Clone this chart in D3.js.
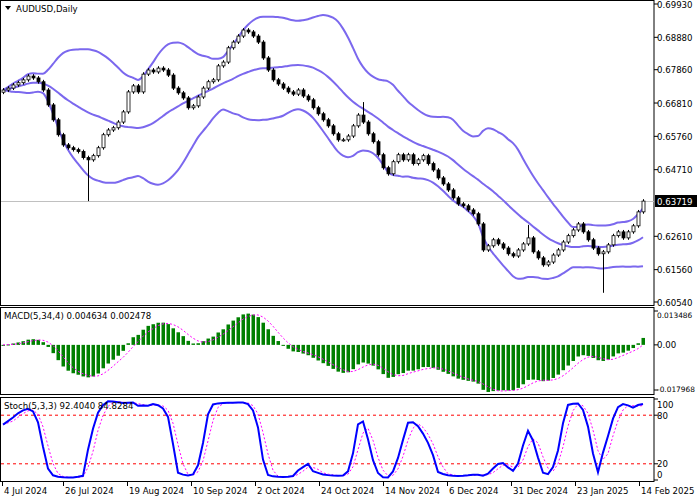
<!DOCTYPE html>
<html><head><meta charset="utf-8">
<script src="https://cdn.jsdelivr.net/npm/d3@7"></script>
<style>body{margin:0;background:#fff}svg{display:block}text{font-family:"DejaVu Sans",sans-serif;font-size:8.6px}</style>
</head><body><svg id="c" width="700" height="500"></svg>
<script>
const closes=[.6722,.6728,.6738,.6745,.6754,.6766,.6760,.6748,.6722,.6675,.6628,.6581,.6549,.6540,.6534,.6528,.6509,.6502,.6515,.6540,
.6581,.6596,.6603,.6621,.6653,.6716,.6735,.6716,.6772,.6785,.6779,.6791,.6785,.6769,.6728,.6713,.6697,.6666,.6672,.6700,
.6728,.6748,.6754,.6798,.6810,.6855,.6873,.6892,.6911,.6905,.6892,.6873,.6823,.6785,.6754,.6741,.6728,.6716,.6709,.6722,
.6703,.6691,.6666,.6647,.6628,.6609,.6584,.6565,.6565,.6577,.6609,.6643,.6621,.6584,.6559,.6518,.6477,.6458,.6496,.6518,
.6502,.6518,.6490,.6502,.6515,.6490,.6470,.6445,.6426,.6407,.6382,.6363,.6357,.6344,.6332,.6300,.6218,.6231,.6250,.6237,
.6224,.6206,.6199,.6218,.6237,.6256,.6212,.6193,.6171,.6180,.6202,.6218,.6243,.6263,.6281,.6300,.6275,.6250,.6224,.6206,
.6212,.6234,.6263,.6275,.6256,.6275,.6294,.6338,.6372];
const firstOpen=.6715;
const longWicks=[[17,"low",.6372],[72,"high",.6684],[105,"high",.6297],[120,"low",.6083]];
const priceTicks=[0.69930,0.68880,0.67860,0.66810,0.65760,0.64710,0.62610,0.61560,0.60540];
const lastPrice=0.63719;
const macdTicks=[0.013486,0.00,-0.017968];
const stochTicks=[100,80,20,0];
const dateLabels=[[0,"4 Jul 2024"],[12.2,"26 Jul 2024"],[25,"19 Aug 2024"],[37.8,"10 Sep 2024"],[50.6,"2 Oct 2024"],[63.4,"24 Oct 2024"],[76.2,"14 Nov 2024"],[89,"6 Dec 2024"],[101.8,"31 Dec 2024"],[114.6,"23 Jan 2025"],[127.4,"14 Feb 2025"]];

const n=closes.length;
const bars=closes.map((c,i)=>{const o=i?closes[i-1]:firstOpen;return{o,c,h:Math.max(o,c)+0.0006,l:Math.min(o,c)-0.0006};});
longWicks.forEach(([i,k,v])=>{bars[i][k==="high"?"h":"l"]=v;});
const bb=closes.map((c,i)=>{const w=closes.slice(Math.max(0,i-19),i+1);const m=d3.mean(w);const s=Math.sqrt(d3.mean(w,v=>(v-m)**2));return{m,u:m+2*s,d:m-2*s};});
function ema(a,p){const k=2/(p+1);let e=a[0];return a.map(v=>e=e+(v-e)*k);}
const e5=ema(closes,5),e34=ema(closes,34);
const macd=closes.map((c,i)=>e5[i]-e34[i]);
const sma=(a,p)=>a.map((v,i)=>d3.mean(a.slice(Math.max(0,i-p+1),i+1)));
const macdSig=sma(macd,4);
const hh=bars.map((b,i)=>d3.max(bars.slice(Math.max(0,i-4),i+1),d=>d.h));
const ll=bars.map((b,i)=>d3.min(bars.slice(Math.max(0,i-4),i+1),d=>d.l));
const num=sma(closes.map((c,i)=>c-ll[i]),3),den=sma(closes.map((c,i)=>hh[i]-ll[i]),3);
const stK=num.map((v,i)=>100*v/den[i]);
const stD=sma(stK,3);

const svg=d3.select("#c");
const x=d3.scaleLinear().domain([0,n-1]).range([3,643]);
const y=d3.scaleLinear().domain([0.60540,0.69930]).range([302,4]);
const ym=d3.scaleLinear().domain([-0.017968,0.013486]).range([390,311]);
const ys=d3.scaleLinear().domain([0,100]).range([480,399]);
const AX=654;
[[0,305],[307,394],[397,481]].forEach(([a,b])=>svg.append("rect").attr("x",0.5).attr("y",a+0.5).attr("width",AX-0.5).attr("height",b-a).attr("fill","none").attr("stroke","#000"));
const clip=(id,a,b)=>svg.append("clipPath").attr("id",id).append("rect").attr("x",1).attr("y",a).attr("width",AX-1).attr("height",b-a);
clip("c1",1,305);clip("c2",308,394);clip("c3",398,481);
const g1=svg.append("g").attr("clip-path","url(#c1)"),g2=svg.append("g").attr("clip-path","url(#c2)"),g3=svg.append("g").attr("clip-path","url(#c3)");
g1.append("line").attr("x1",1).attr("x2",AX).attr("y1",Math.round(y(lastPrice))+0.5).attr("y2",Math.round(y(lastPrice))+0.5).attr("stroke","#c0c0c0");
["u","m","d"].forEach(k=>g1.append("path").attr("d",d3.line().x((d,i)=>x(i)).y(d=>y(d[k])).curve(d3.curveMonotoneX)(bb)).attr("fill","none").attr("stroke","#7b68ee").attr("stroke-width",2));
bars.forEach((b,i)=>{const cx=Math.round(x(i))+0.5;
 g1.append("line").attr("x1",cx).attr("x2",cx).attr("y1",y(b.h)).attr("y2",y(b.l)).attr("stroke","#000");
 const t=Math.min(y(b.o),y(b.c)),hgt=Math.max(1,Math.abs(y(b.o)-y(b.c)));
 g1.append("rect").attr("x",cx-1.5).attr("y",t).attr("width",3).attr("height",hgt).attr("fill",b.c>=b.o?"#fff":"#000").attr("stroke","#000").attr("stroke-width",0.8);});
macd.forEach((v,i)=>{g2.append("rect").attr("x",x(i)-1.5).attr("width",3.5).attr("y",Math.min(ym(v),ym(0))).attr("height",Math.max(1,Math.abs(ym(v)-ym(0)))).attr("fill","#008000");});
g2.append("path").attr("d",d3.line().x((d,i)=>x(i)).y(d=>ym(d))(macdSig)).attr("fill","none").attr("stroke","#ff00ff").attr("stroke-dasharray","2,2");
[80,20].forEach(v=>g3.append("line").attr("x1",1).attr("x2",AX).attr("y1",ys(v)).attr("y2",ys(v)).attr("stroke","#ff0000").attr("stroke-dasharray","3,3"));
g3.append("path").attr("d",d3.line().x((d,i)=>x(i)).y(d=>ys(d))(stD)).attr("fill","none").attr("stroke","#ff00ff").attr("stroke-dasharray","2,2");
g3.append("path").attr("d",d3.line().x((d,i)=>x(i)).y(d=>ys(d))(stK)).attr("fill","none").attr("stroke","#0000ff").attr("stroke-width",2);
const axT=(sc,vals,fmt,top,bot)=>vals.forEach(v=>{const yy=sc(v);const ty=Math.max(top,Math.min(bot,yy));svg.append("line").attr("x1",AX).attr("x2",AX+4).attr("y1",yy).attr("y2",yy).attr("stroke","#000");
 const t=svg.append("text").attr("x",AX+3).attr("y",ty+3.5).text(fmt(v));
 if(t.node().getComputedTextLength()>700-AX-5)t.style("font-size","7.4px");});
axT(y,priceTicks,v=>v.toFixed(5),4,302);
axT(ym,macdTicks,v=>v===0?"0.00":String(v),314,388);
axT(ys,stochTicks,v=>String(v),404,474);
const ly=Math.round(y(lastPrice));
svg.append("rect").attr("x",AX+1).attr("y",ly-6).attr("width",42).attr("height",12).attr("fill","#000");
svg.append("text").attr("x",AX+3).attr("y",ly+3.5).attr("fill","#fff").text(lastPrice.toFixed(5));
dateLabels.forEach(([i,t])=>{const xx=Math.round(x(i))-1;svg.append("line").attr("x1",xx+0.5).attr("x2",xx+0.5).attr("y1",481).attr("y2",486).attr("stroke","#000");svg.append("text").attr("x",xx+2).attr("y",494).text(t);});
svg.append("path").attr("d","M5,6 L11,6 L8,10 Z").attr("fill","#000");
svg.append("text").attr("x",16).attr("y",12).text("AUDUSD,Daily");
svg.append("text").attr("x",4).attr("y",319).text("MACD(5,34,4) 0.004634 0.002478");
svg.append("text").attr("x",4).attr("y",409).text("Stoch(5,3,3) 92.4040 84.8284");
</script></body></html>
